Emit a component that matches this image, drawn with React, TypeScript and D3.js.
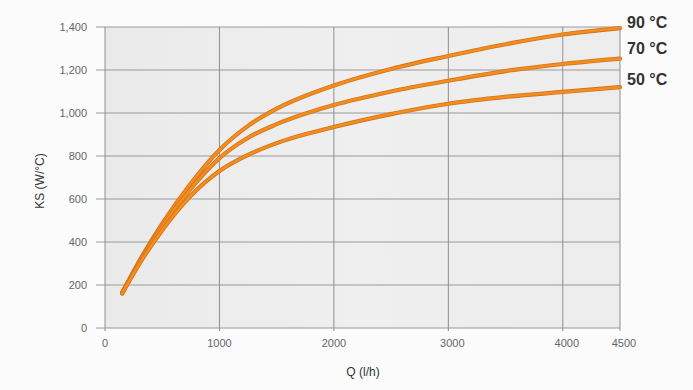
import React from "react";
import * as d3 from "d3";

const flowQ = [150, 300, 500, 750, 1000, 1250, 1500, 2000, 2500, 3000, 3500, 4000, 4500];
const ks90 = [165, 312, 485, 672, 828, 940, 1020, 1128, 1205, 1265, 1320, 1365, 1395];
const ks70 = [163, 306, 472, 648, 790, 885, 948, 1037, 1100, 1150, 1195, 1228, 1253];
const ks50 = [160, 298, 455, 615, 730, 805, 860, 935, 995, 1043, 1075, 1098, 1120];
const seriesLabels = ["90 °C", "70 °C", "50 °C"];
const xTicks = [0, 1000, 2000, 3000, 4000, 4500];
const yTicks = [0, 200, 400, 600, 800, 1000, 1200, 1400];

const W = 693;
const H = 390;

export default function App() {
  const x = d3.scaleLinear().domain([0, 4500]).range([105, 620]);
  const y = d3.scaleLinear().domain([0, 1400]).range([328, 27]);
  const line = d3
    .line<number>()
    .x((_, i) => x(flowQ[i]))
    .y((d) => y(d))
    .curve(d3.curveMonotoneX);
  const series = [ks90, ks70, ks50];
  const fmt = d3.format(",");
  const labelOffsets = [6, 10, 8];

  return (
    <svg
      width={W}
      height={H}
      style={{ position: "absolute", left: 0, top: 0, background: "#fbfbfb" }}
      fontFamily="'Liberation Sans', Arial, sans-serif"
    >
      <defs>
        <linearGradient id="bg" x1="0" x2="1" y1="0" y2="0">
          <stop offset="0" stopColor="#eaeaea" />
          <stop offset="0.5" stopColor="#efefef" />
          <stop offset="1" stopColor="#ececec" />
        </linearGradient>
      </defs>
      <rect
        x={x(0)}
        y={y(1400)}
        width={x(4500) - x(0)}
        height={y(0) - y(1400)}
        fill="url(#bg)"
      />
      {yTicks.map((t) => (
        <g key={"y" + t}>
          <line x1={x(0) - 9} x2={x(4500)} y1={y(t)} y2={y(t)} stroke="#9a9a9a" strokeWidth={1} />
          <text
            x={87}
            y={y(t)}
            dy="0.35em"
            textAnchor="end"
            fontSize={11}
            fill="#666"
          >
            {fmt(t)}
          </text>
        </g>
      ))}
      {xTicks.map((t) => (
        <g key={"x" + t}>
          <line x1={x(t)} x2={x(t)} y1={y(1400)} y2={y(0) + 3} stroke="#8f8f8f" strokeWidth={1} />
          <text x={x(t) + (t >= 3000 ? 4 : 0)} y={343} dy="0.35em" textAnchor="middle" fontSize={11} fill="#666">
            {t}
          </text>
        </g>
      ))}
      {series.map((s, i) => (
        <g key={"s" + i}>
          <path d={line(s) || ""} fill="none" stroke="#cf741c" strokeWidth={4.2} strokeLinecap="round" />
          <path d={line(s) || ""} fill="none" stroke="#f58c1c" strokeWidth={2.6} strokeLinecap="round" />
        </g>
      ))}
      {series.map((s, i) => (
        <text
          key={"l" + i}
          x={627}
          y={y(s[s.length - 1]) - labelOffsets[i]}
          dy="0.35em"
          fontSize={16}
          fontWeight="bold"
          fill="#333"
        >
          {seriesLabels[i]}
        </text>
      ))}
      <text x={363} y={372} dy="0.35em" textAnchor="middle" fontSize={12} fill="#333">
        Q (l/h)
      </text>
      <text
        transform={`translate(40,181) rotate(-90)`}
        dy="0.35em"
        textAnchor="middle"
        fontSize={12}
        fill="#333"
      >
        KS (W/°C)
      </text>
    </svg>
  );
}
